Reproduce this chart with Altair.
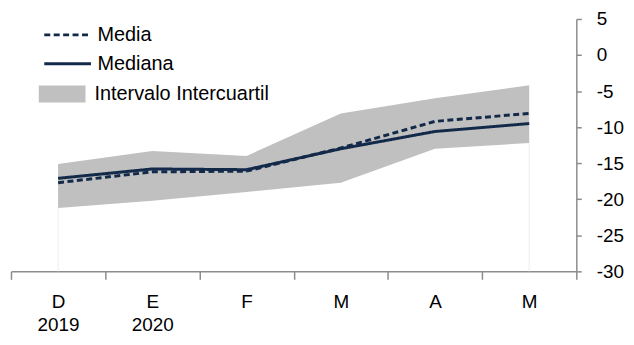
import json
import altair as alt
import pandas as pd

# ---- data ----
meses = ["D", "E", "F", "M", "A", "M"]
anios = ["2019", "2020", "", "", "", ""]
media = [-17.7, -16.2, -16.1, -12.9, -9.2, -8.1]
mediana = [-17.1, -15.8, -15.9, -13.0, -10.6, -9.5]
q1 = [-21.2, -20.2, -19.0, -17.7, -13.0, -12.2]
q3 = [-15.1, -13.3, -14.0, -8.1, -6.0, -4.2]
y_ticks = [5, 0, -5, -10, -15, -20, -25, -30]

NAVY = "#12294a"
GRAY = "#c0c0c0"
AXIS = "#8c8c8c"
FONT = "Liberation Sans"

idx = list(range(len(meses)))
df = pd.DataFrame({
    "i": idx,
    "media": media,
    "mediana": mediana,
    "q1": q1,
    "q3": q3,
    "s_media": ["Media"] * len(idx),
    "s_mediana": ["Mediana"] * len(idx),
    "s_band": ["Intervalo Intercuartil"] * len(idx),
    "base": [min(y_ticks)] * len(idx),
})

labels = [[m, a] if a else [m] for m, a in zip(meses, anios)]
label_expr = json.dumps(labels) + "[datum.value]"

x_enc = alt.X(
    "i:O",
    bandPosition=0.5,
    scale=alt.Scale(type="band", paddingInner=0, paddingOuter=0),
    axis=alt.Axis(
        title=None, labelAngle=0, tickBand="extent", tickSize=8,
        labelPadding=13, labelExpr=label_expr, labelLineHeight=24,
        labelFontSize=19, labelFont=FONT, labelColor="#000000",
        domainColor=AXIS, tickColor=AXIS, domainWidth=1.5, tickWidth=1.5,
        grid=False, labelOverlap=False,
    ),
)
y_scale = alt.Scale(domain=[min(y_ticks), max(y_ticks)], nice=False, zero=False)
y_axis = alt.Axis(
    title=None, orient="right", values=y_ticks, tickSize=5, labelPadding=15,
    labelAlign="left", labelFontSize=19, labelFont=FONT, labelColor="#000000",
    labelExpr="'' + datum.value", labelOverlap=False, labelBound=False,
    domainColor=AXIS, tickColor=AXIS, domainWidth=1.5, tickWidth=1.5, grid=False,
)

band = alt.Chart(df).mark_area(opacity=1).encode(
    x=x_enc,
    y=alt.Y("q1:Q", scale=y_scale, axis=y_axis),
    y2="q3:Q",
    fill=alt.Fill(
        "s_band:N",
        scale=alt.Scale(range=[GRAY]),
        legend=alt.Legend(
            title=None, orient="none", legendX=28, legendY=52, padding=0,
            symbolType="M-1,-0.36H1V0.36H-1Z", symbolSize=2209,
            symbolStrokeWidth=0, symbolOpacity=1, labelOffset=9,
            labelFontSize=20, labelFont=FONT, labelColor="#000000",
            labelLimit=400,
        ),
    ),
)

edges = alt.Chart(df).transform_filter(
    (alt.datum.i == idx[0]) | (alt.datum.i == idx[-1])
).mark_rule(color="#ededed", strokeWidth=1).encode(
    x=x_enc, y=alt.Y("q1:Q", scale=y_scale, axis=y_axis), y2="base:Q"
)


def line_layer(field, sfield, dash, ly):
    return alt.Chart(df).mark_line(color=NAVY, strokeWidth=3).encode(
        x=x_enc,
        y=alt.Y(f"{field}:Q", scale=y_scale, axis=y_axis),
        strokeDash=alt.StrokeDash(
            f"{sfield}:N",
            scale=alt.Scale(range=[dash]),
            legend=alt.Legend(
                title=None, orient="none", legendX=32, legendY=ly, padding=0,
                symbolType="stroke", symbolSize=2209, symbolStrokeWidth=3,
                symbolStrokeColor=NAVY, labelOffset=5, labelFontSize=20,
                labelFont=FONT, labelColor="#000000", labelLimit=400,
            ),
        ),
    )


l_media = line_layer("media", "s_media", [6, 3.5], -9)
l_mediana = line_layer("mediana", "s_mediana", [1, 0], 20)

chart = alt.layer(band, edges, l_media, l_mediana).resolve_scale(
    strokeDash="independent"
).resolve_legend(strokeDash="independent").properties(
    width=569, height=254,
    autosize=alt.AutoSizeParams(type="none"),
    padding={"left": 3, "top": 10, "right": 50, "bottom": 63},
).configure_view(stroke=None)

chart.save("out.html", embed_options={"renderer": "svg", "actions": False})
